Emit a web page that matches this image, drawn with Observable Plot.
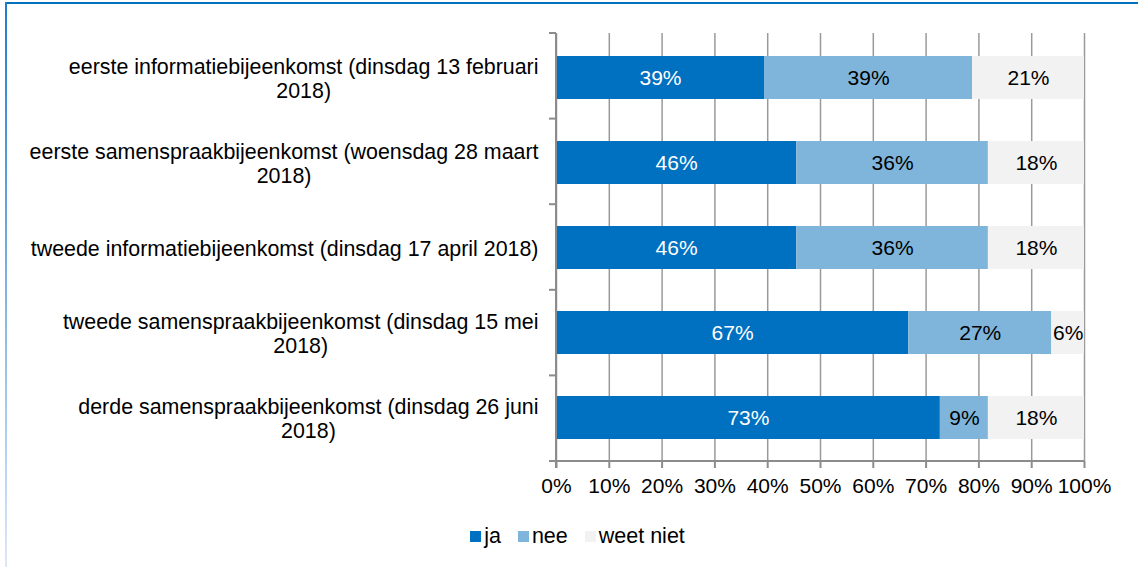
<!DOCTYPE html>
<html>
<head>
<meta charset="utf-8">
<script src="https://cdn.jsdelivr.net/npm/d3@7"></script>
<script src="https://cdn.jsdelivr.net/npm/@observablehq/plot@0.6"></script>
<style>
  html, body { margin: 0; padding: 0; background: #fff; }
  #wrap { position: relative; width: 1138px; height: 567px; overflow: hidden; font-family: "Liberation Sans", Arial, sans-serif; }
  #topline { position: absolute; left: 5px; right: 0; top: 2px; height: 2px; background: #0070c0; }
  #leftline { position: absolute; left: 5px; top: 2px; bottom: 0; width: 2px; background: linear-gradient(#1f7ccc, #dce7f8); }
  #chart svg { display: block; }
  #legend { position: absolute; left: 34px; right: 0; top: 524px; display: flex; justify-content: center; align-items: center; font-size: 21.5px; color: #000; }
  .item { display: flex; align-items: center; margin-right: 17px; }
  .sw { display: inline-block; width: 11px; height: 11px; margin-right: 3px; }
</style>
</head>
<body>
<div id="wrap">
  <div id="chart"></div>
  <div id="legend"></div>
  <div id="topline"></div>
  <div id="leftline"></div>
</div>
<script>
const categories = [
  "eerste informatiebijeenkomst (dinsdag 13 februari\n2018)",
  "eerste samenspraakbijeenkomst (woensdag 28 maart\n2018)",
  "tweede informatiebijeenkomst (dinsdag 17 april 2018)",
  "tweede samenspraakbijeenkomst (dinsdag 15 mei\n2018)",
  "derde samenspraakbijeenkomst (dinsdag 26 juni\n2018)"
];
const series = ["ja", "nee", "weet niet"];
const ja = [39.4, 45.5, 45.5, 66.7, 72.7];
const nee = [39.4, 36.3, 36.3, 27.1, 9.1];
const weetNiet = [21.2, 18.2, 18.2, 6.2, 18.2];
const colors = ["#0070c0", "#7fb4db", "#f2f2f2"];
const xTicks = [0, 10, 20, 30, 40, 50, 60, 70, 80, 90, 100];

const axisColor = "#8c8c8c";
const gridColor = "#9a9a9a";

const valuesBySeries = [ja, nee, weetNiet];
const rows = [];
categories.forEach((cat, i) => {
  let start = 0;
  series.forEach((s, j) => {
    const v = valuesBySeries[j][i];
    rows.push({cat, series: s, value: v, x1: start, x2: start + v, mid: start + v / 2, label: Math.round(v) + "%"});
    start += v;
  });
});

function axisLines(index, scales, values, dims) {
  const {height, marginTop, marginBottom} = dims;
  const left = scales.x(0), right = scales.x(100);
  const top = marginTop, bottom = height - marginBottom;
  const n = categories.length, step = (bottom - top) / n, len = 7;
  const g = d3.create("svg:g").attr("stroke", axisColor).attr("stroke-width", 2).attr("fill", "none");
  g.append("line").attr("x1", left).attr("x2", left).attr("y1", top).attr("y2", bottom + len);
  g.append("line").attr("x1", left - len).attr("x2", right).attr("y1", bottom).attr("y2", bottom);
  for (let i = 0; i <= n; i++) {
    const y = top + i * step;
    g.append("line").attr("x1", left - len).attr("x2", left).attr("y1", y).attr("y2", y);
  }
  return g.node();
}

const plot = Plot.plot({
  width: 1138,
  height: 510,
  marginLeft: 556,
  marginRight: 54,
  marginTop: 33,
  marginBottom: 49,
  style: {fontFamily: '"Liberation Sans", Arial, sans-serif', fontSize: "21px", color: "#000", background: "transparent"},
  x: {domain: [0, 100]},
  y: {domain: categories, paddingInner: 0.5, paddingOuter: 0.25},
  color: {domain: series, range: colors},
  marks: [
    Plot.ruleX(xTicks, {stroke: gridColor, strokeWidth: 1.5}),
    Plot.barX(rows, {y: "cat", x1: "x1", x2: "x2", fill: "series"}),
    Plot.text(rows.filter(d => d.series === "ja"), {y: "cat", x: "mid", text: "label", fill: "white", fontSize: 21}),
    Plot.text(rows.filter(d => d.series !== "ja"), {y: "cat", x: "mid", text: "label", fill: "black", fontSize: 21}),
    Plot.axisX({ticks: xTicks, tickFormat: d => d + "%", tickSize: 7, tickPadding: 10, stroke: axisColor, strokeWidth: 2, fill: "black", label: null}),
    Plot.axisY({tickSize: 0, tickPadding: 18, fill: "black", label: null, lineHeight: 1.15, fontSize: 21.4}),
    axisLines
  ]
});

document.getElementById("chart").append(plot);

// center the wrapped lines of each y label relative to each other, right-aligned as a block
plot.querySelectorAll('g[aria-label="y-axis tick label"] text').forEach(t => {
  const ts = t.querySelectorAll("tspan");
  if (!ts.length) return;
  const w = Math.max(...[...ts].map(s => s.getComputedTextLength()));
  t.setAttribute("text-anchor", "middle");
  ts.forEach(s => s.setAttribute("x", -w / 2));
});

const legend = document.getElementById("legend");
series.forEach((s, i) => {
  const item = document.createElement("div");
  item.className = "item";
  const sw = document.createElement("span");
  sw.className = "sw";
  sw.style.background = colors[i];
  const lab = document.createElement("span");
  lab.textContent = s;
  item.append(sw, lab);
  legend.append(item);
});
</script>
</body>
</html>
